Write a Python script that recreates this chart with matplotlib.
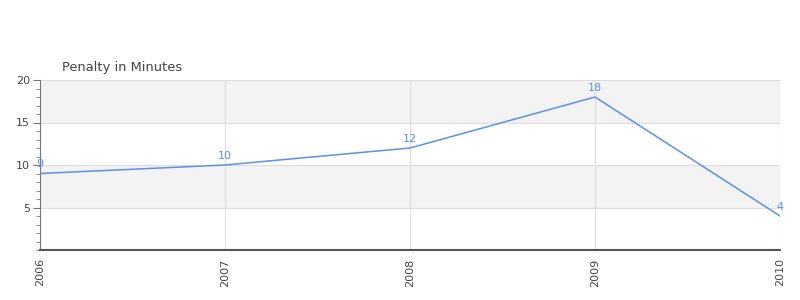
import matplotlib
matplotlib.use('Agg')
import matplotlib.pyplot as plt
from matplotlib.ticker import MultipleLocator

# --- dados ---
anos = ['2006', '2007', '2008', '2009', '2010']
penalidade = [9, 10, 12, 18, 4]

fig = plt.figure(figsize=(8, 3), dpi=100)
ax = fig.add_axes([0.05, 1 - 250 / 300, 0.925, 170 / 300])

x = list(range(len(anos)))
cor = '#5b8ff0'

# faixas alternadas
for y0 in (5, 15):
    ax.axhspan(y0, y0 + 5, color='#f3f3f3', zorder=0, lw=0)
for y0 in (5, 10, 15, 20):
    ax.axhline(y0, color='#dddddd', lw=0.8, zorder=1)
for xi in x:
    ax.axvline(xi, color='#dddddd', lw=0.8, zorder=1)

ax.plot(x, penalidade, color=cor, lw=1.1, zorder=3)
for xi, v in zip(x, penalidade):
    ax.text(xi, v + 0.5, str(v), color=cor, fontsize=8, ha='center', va='bottom', zorder=4)

ax.axhline(0, color='#cc0000', lw=0.8, zorder=4)

ax.set_xlim(0, len(anos) - 1)
ax.set_ylim(0, 20)
ax.set_xticks(x)
ax.set_xticklabels(anos, rotation=90, fontsize=8, color='#444444')
ax.set_yticks([5, 10, 15, 20])
ax.yaxis.set_minor_locator(MultipleLocator(1))
ax.tick_params(axis='y', which='major', length=5, color='#777777', labelsize=8, labelcolor='#444444', pad=2)
ax.tick_params(axis='y', which='minor', length=3, color='#777777')
ax.tick_params(axis='x', length=0, pad=6)

for s in ('top', 'right'):
    ax.spines[s].set_visible(False)
ax.spines['left'].set_color('#777777')
ax.spines['bottom'].set_color('#555555')
ax.spines['bottom'].set_linewidth(1.5)

fig.text(62 / 800, 1 - 67 / 300, 'Penalty in Minutes', fontsize=9.4, color='#444444', va='center', ha='left')

fig.savefig('out.png', dpi=100)
